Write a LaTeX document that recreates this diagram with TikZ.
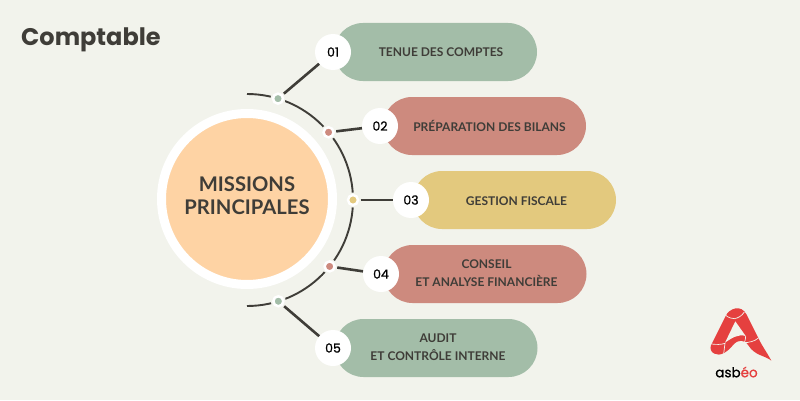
\documentclass[tikz,border=0pt]{standalone}
\usepackage{fontspec}
\setmainfont{Poppins}
\newfontfamily\labelfont{Lato}
\newfontfamily\midfont{Poppins}[FakeBold=1]
\usetikzlibrary{shapes.misc,positioning}
\definecolor{paper}{HTML}{F2F3EC}
\definecolor{ink}{HTML}{3F3D38}
\definecolor{sage}{HTML}{A3BDA8}
\definecolor{clay}{HTML}{CD8A7E}
\definecolor{straw}{HTML}{E3C97E}
\definecolor{peach}{HTML}{FED3A4}
\definecolor{logored}{HTML}{E5403F}
\tikzset{
  pill/.style={rounded rectangle, fill=#1, minimum width=203pt, minimum height=58pt, inner sep=0pt},
  pilltext/.style={align=center, text=ink, inner sep=0pt, font=\labelfont\bfseries\fontsize{12}{18.5}\selectfont},
  num/.style={circle, fill=white, minimum size=36pt, inner sep=0pt, text=black, font=\midfont\fontsize{12.5}{14}\selectfont},
  gap/.style={circle, fill=paper, minimum size=15pt, inner sep=0pt},
  dot/.style={circle, fill=#1, draw=white, line width=2.5pt, minimum size=10pt, inner sep=0pt},
  curve/.style={draw=ink, line width=1.9pt},
  link/.style={draw=ink, line width=2.6pt},
  fold/.style={draw=paper, line width=0.7pt},
}
\begin{document}
\begin{tikzpicture}[x=1pt,y=1pt]
  \fill[paper] (0,0) rectangle (800,400);
  \useasboundingbox (0,0) rectangle (800,400);
  \node[anchor=west, inner sep=0pt, text=ink, font=\fontsize{24}{28}\selectfont\bfseries] (title) at (21,360) {Comptable};
  % centre
  \node[circle, fill=peach, draw=white, line width=9pt, minimum size=171pt, inner sep=0pt] (core) at (247,201) {};
  \node[align=center, inner sep=0pt, text=ink, font=\labelfont\bfseries\fontsize{20.2}{23}\selectfont] (corelabel) at (247,204) {MISSIONS\\PRINCIPALES};
  % arc round the centre
  \coordinate (mid) at (247,200);
  \draw[curve] ([shift={(90:106)}]mid) arc (90:-90:106);
  % pills
  \node[pill=sage] (p1) at (435.5,348) {};
  \node[pill=clay] (p2) at (484.5,274) {};
  \node[pill=straw] (p3) at (514.5,200) {};
  \node[pill=clay] (p4) at (485,126) {};
  \node[pill=sage] (p5) at (436,52) {};
  \node[pilltext] (t1) at (441,348) {TENUE DES COMPTES};
  \node[pilltext] (t2) at (489.5,274) {PRÉPARATION DES BILANS};
  \node[pilltext] (t3) at (516.5,199) {GESTION FISCALE};
  \node[pilltext] (t4) at (486.5,127) {CONSEIL\\ET ANALYSE FINANCIÈRE};
  \node[pilltext] (t5) at (438,53) {AUDIT\\ET CONTRÔLE INTERNE};
  % numbers
  \node[num] (n1) at (333,348) {01};
  \node[num] (n2) at (380,274) {02};
  \node[num] (n3) at (411,200) {03};
  \node[num] (n4) at (381,126) {04};
  \node[num] (n5) at (333,52) {05};
  % dots on the arc
  \foreach \name/\ang/\col in {1/73/sage,2/39.7/clay,3/0/straw,4/-38.8/clay,5/-72.8/sage}{
    \node[gap] (g\name) at ([shift={(\ang:106)}]mid) {};
    \node[dot=\col] (d\name) at (g\name) {};
  }
  \foreach \i in {1,...,5}{
    \draw[link] (g\i) -- (n\i);
  }
  % logo
  \begin{scope}[shift={(705,98)}, x=0.3333pt, y=-0.3333pt]
    \fill[logored] (18,130) -- (62,42) .. controls (72,20) and (108,5) .. (125,38)
      -- (160,108) .. controls (170,130) and (185,150) .. (199,176)
      .. controls (180,160) and (150,162) .. (130,130)
      .. controls (118,112) and (100,112) .. (85,128)
      .. controls (70,148) and (45,165) .. (28,155)
      .. controls (18,150) and (14,140) .. (18,130) -- cycle;
    \fill[paper] (60,122) -- (91,58) -- (122,102) .. controls (100,95) and (80,108) .. (60,122) -- cycle;
    \draw[fold] (62,40) .. controls (72,48) and (82,50) .. (88,50) .. controls (100,48) and (110,42) .. (118,30);
    \draw[fold] (20,126) .. controls (35,128) and (48,128) .. (60,124) -- (56,155);
    \draw[fold] (122,102) .. controls (122,110) and (120,118) .. (118,122) .. controls (130,122) and (150,118) .. (160,108);
  \end{scope}
  \node[inner sep=0pt, text=black, font=\midfont\fontsize{13.5}{16}\selectfont] (brand) at (736.5,28)
    {asb\textcolor{logored}{éo}};
\end{tikzpicture}
\end{document}
